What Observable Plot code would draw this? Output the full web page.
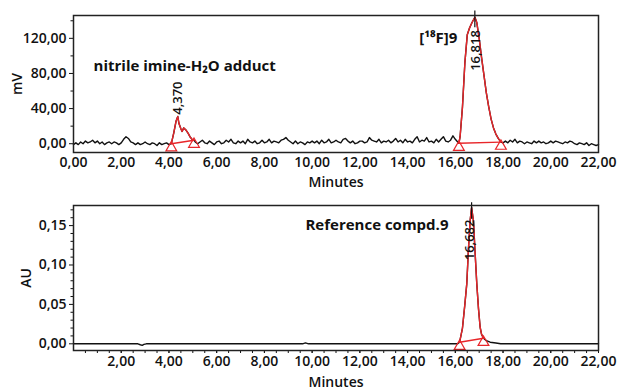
<!DOCTYPE html>
<html>
<head>
<meta charset="utf-8">
<script src="https://cdn.jsdelivr.net/npm/d3@7"></script>
<script src="https://cdn.jsdelivr.net/npm/@observablehq/plot@0.6"></script>
<style>
  html, body { margin: 0; padding: 0; background: #fff; }
  #chart svg { display: block; }
</style>
</head>
<body>
<div id="chart"></div>
<script>
// ---------- DATA ----------
// Top panel (radio detector, mV), sampled every 0.1 min from 0.0 to 22.0 (null = inside integrated peak)
const topStart = 0, topStep = 0.1;
const topNoise = [
  -1,
  1, -1, 2, 0, 3, 1, 2, 4, 1, 3,
  0, 2, -1, 1, 2, 0, 2, 1, -1, 1,
  5, 8, 6, 2, 1, -1, 1, -1, 0, 2,
  0, -1, 1, 0, -2, 1, -1, 0, 1, -1,
  null, null, null, null, null, null, null, null, null, null,
  2, 0, 2, 4, 1, 0, 3, 1, -1, 2,
  3, 0, 1, 4, 2, 5, 1, 0, 3, 1,
  3, 0, 5, 2, 1, 3, 0, 1, 4, 1,
  2, 5, 1, 3, 2, 1, 4, 5, 7, 4,
  2, 0, 3, 0, 2, 1, -1, 2, 1, 3,
  1, 3, 0, 4, 1, 2, 5, 1, 2, 4,
  2, 1, 5, 6, 3, 1, 3, 0, 1, 3,
  3, 1, 2, 7, 4, 3, 2, 5, 1, 3,
  2, 4, 1, 3, 6, 2, 4, 1, 5, 2,
  3, 1, 5, 8, 2, 4, 3, 7, 2, 3,
  1, 5, 2, 5, 8, 3, 2, 4, 9, 5,
  2, null, null, null, null, null, null, null, null, null,
  null, null, null, null, null, null, null, null, null, 1,
  3, 1, 4, 2, 5, 1, 3, 2, 0, 2,
  1, 0, 3, 1, 3, 1, 2, 0, 1, 3,
  1, 3, 2, 1, 0, 2, 1, 3, 2, 0,
  -1, 1, 0, -1, 1, -2, 0, -1, -2, -1
];
const peak1Time = [4.10, 4.20, 4.30, 4.37, 4.42, 4.50, 4.55, 4.62, 4.70, 4.80, 4.88, 4.97, 5.05];
const peak1Val  = [0, 12, 26, 31, 23, 17, 14, 18, 16, 12, 8, 5, 4];
const peak2Time = [16.15, 16.20, 16.30, 16.40, 16.50, 16.60, 16.70, 16.82, 16.90, 17.00, 17.10, 17.20, 17.30, 17.40, 17.50, 17.60, 17.70, 17.80, 17.91];
const peak2Val  = [0.5, 8, 42, 92, 124, 132, 138, 144, 138, 120, 98, 78, 58, 42, 28, 18, 11, 6, 1.8];

// Bottom panel (UV, AU)
const botTime = [0, 2.70, 2.80, 2.88, 2.95, 3.05, 9.60, 9.72, 9.85, 16.10];
const botVal  = [0, 0, -0.0012, -0.002, -0.0008, 0, 0, 0.0012, 0, 0];
const peak3Time = [16.18, 16.30, 16.40, 16.48, 16.55, 16.62, 16.68, 16.76, 16.83, 16.90, 16.97, 17.04, 17.10, 17.18];
const peak3Val  = [0.002, 0.02, 0.05, 0.076, 0.12, 0.156, 0.173, 0.156, 0.115, 0.076, 0.045, 0.021, 0.012, 0.007];
const tailTime = [17.18, 17.30, 17.46, 17.70, 17.90, 22.0];
const tailVal  = [0.007, 0.004, 0.002, 0.001, 0, 0];

// Integration baselines (start/end points) and retention times
const topBaselines = [
  {t1: 4.10, v1: 0, t2: 5.05, v2: 4},
  {t1: 16.15, v1: 0.5, t2: 17.91, v2: 1.8}
];
const botBaselines = [{t1: 16.18, v1: 0.002, t2: 17.18, v2: 0.007}];
const topRT = [{t: 4.37, v: 33, label: "4,370"}, {t: 16.84, v: 83, label: "16,818"}];
const botRT = [{t: 16.62, v: 0.106, label: "16,682"}];
const topApex = [{t: 16.818, v1: 132, v2: 151}];
const botApex = [{t: 16.682, v1: 0.158, v2: 0.179}];
const topNotes = [
  {t: 0.84, v: 88, label: "nitrile imine-H₂O adduct"},
  {t: 14.49, v: 120, label: "[¹⁸F]9"}
];
const botNotes = [{t: 9.72, v: 0.150, label: "Reference compd.9"}];

// Ticks
const xTicksTop = [0, 2, 4, 6, 8, 10, 12, 14, 16, 18, 20, 22];
const xTicksBot = [2, 4, 6, 8, 10, 12, 14, 16, 18, 20, 22];
const xMinorBot = [0.5,1,1.5,2,2.5,3,3.5,4,4.5,5,5.5,6,6.5,7,7.5,8,8.5,9,9.5,10,10.5,11,11.5,12,12.5,13,13.5,14,14.5,15,15.5,16,16.5,17,17.5,18,18.5,19,19.5,20,20.5,21,21.5,22];
const yTicksTop = [0, 40, 80, 120];
const yMinorTop = [20, 60, 100, 140];
const yTicksBot = [0, 0.05, 0.10, 0.15];
const yMinorBot = [0.01,0.02,0.03,0.04,0.06,0.07,0.08,0.09,0.11,0.12,0.13,0.14,0.16,0.17];

// ---------- BUILD ----------
const RED = "#e8262a";
const INK = "#111";
const fmt = d => d.toFixed(2).replace(".", ",");
const zip = (ts, vs) => ts.map((t, i) => ({t, v: vs[i]}));

const baseTop = topNoise.map((v, i) => ({t: +(topStart + i * topStep).toFixed(2), v}))
  .filter(d => d.v !== null);
const peak1 = zip(peak1Time, peak1Val);
const peak2 = zip(peak2Time, peak2Val);
const blackTop = baseTop.concat(peak1, peak2).sort((a, b) => a.t - b.t);
const topTri = topBaselines.flatMap(b => [{t: b.t1, v: b.v1}, {t: b.t2, v: b.v2}]);

const peak3 = zip(peak3Time, peak3Val);
const blackBot = zip(botTime, botVal).concat(peak3, zip(tailTime, tailVal).slice(1));
const botTri = botBaselines.flatMap(b => [{t: b.t1, v: b.v1}, {t: b.t2, v: b.v2}]);

const baseStyle = {fontFamily: "'Open Sans', sans-serif", fontSize: "14px", fontWeight: "600", color: INK, background: "#fff"};

const topChart = Plot.plot({
  width: 619, height: 195,
  marginLeft: 73, marginRight: 21, marginTop: 15, marginBottom: 43,
  x: {domain: [0, 22], label: null},
  y: {domain: [-10, 146], label: null},
  style: baseStyle,
  marks: [
    Plot.axisY(yMinorTop, {tickSize: 2.5, tickFormat: () => "", label: null}),
    Plot.axisY(yTicksTop, {tickSize: 4, tickPadding: 3, tickFormat: fmt, label: "mV", labelAnchor: "center", labelOffset: 61, labelArrow: "none"}),
    Plot.axisX(xTicksTop, {tickSize: 0, tickPadding: 5, tickFormat: fmt, label: "Minutes", labelAnchor: "center", labelOffset: 34, labelArrow: "none"}),
    Plot.line(blackTop, {x: "t", y: "v", stroke: INK, strokeWidth: 1.4}),
    Plot.line(peak1, {x: "t", y: "v", stroke: RED, strokeWidth: 1.4}),
    Plot.line(peak2, {x: "t", y: "v", stroke: RED, strokeWidth: 1.4}),
    Plot.link(topBaselines, {x1: "t1", y1: "v1", x2: "t2", y2: "v2", stroke: RED, strokeWidth: 1.4}),
    Plot.dot(topTri, {x: "t", y: "v", symbol: "triangle", r: 4, stroke: RED, fill: "none", strokeWidth: 1.2, dy: 4}),
    Plot.ruleX(topApex, {x: "t", y1: "v1", y2: "v2", stroke: INK, strokeWidth: 1.2}),
    Plot.text(topRT, {x: "t", y: "v", text: "label", rotate: -90, textAnchor: "start", fontSize: 13, fontWeight: "600", fill: INK}),
    Plot.text(topNotes, {x: "t", y: "v", text: "label", textAnchor: "start", fontSize: 15, fontWeight: "bold", fill: INK}),
    Plot.frame({stroke: "#222", strokeWidth: 1.5})
  ]
});

const bottomChart = Plot.plot({
  width: 619, height: 194,
  marginLeft: 73, marginRight: 21, marginTop: 10, marginBottom: 39,
  x: {domain: [0, 22], label: null},
  y: {domain: [-0.0085, 0.1755], label: null},
  style: baseStyle,
  marks: [
    Plot.axisY(yMinorBot, {tickSize: 2.5, tickFormat: () => "", label: null}),
    Plot.axisY(yTicksBot, {tickSize: 4, tickPadding: 3, tickFormat: fmt, label: "AU", labelAnchor: "center", labelOffset: 52, labelArrow: "none"}),
    Plot.axisX(xMinorBot, {tickSize: 3, tickFormat: () => "", label: null}),
    Plot.axisX(xTicksBot, {tickSize: 3, tickPadding: 3, tickFormat: fmt, label: "Minutes", labelAnchor: "center", labelOffset: 36, labelArrow: "none"}),
    Plot.line(blackBot, {x: "t", y: "v", stroke: INK, strokeWidth: 1.4}),
    Plot.line(peak3, {x: "t", y: "v", stroke: RED, strokeWidth: 1.4}),
    Plot.link(botBaselines, {x1: "t1", y1: "v1", x2: "t2", y2: "v2", stroke: RED, strokeWidth: 1.4}),
    Plot.dot(botTri, {x: "t", y: "v", symbol: "triangle", r: 4, stroke: RED, fill: "none", strokeWidth: 1.2, dy: 4}),
    Plot.ruleX(botApex, {x: "t", y1: "v1", y2: "v2", stroke: INK, strokeWidth: 1.2}),
    Plot.text(botRT, {x: "t", y: "v", text: "label", rotate: -90, textAnchor: "start", fontSize: 13, fontWeight: "600", fill: INK}),
    Plot.text(botNotes, {x: "t", y: "v", text: "label", textAnchor: "start", fontSize: 15, fontWeight: "bold", fill: INK}),
    Plot.frame({stroke: "#222", strokeWidth: 1.5})
  ]
});

document.getElementById("chart").append(topChart, bottomChart);
</script>
</body>
</html>
